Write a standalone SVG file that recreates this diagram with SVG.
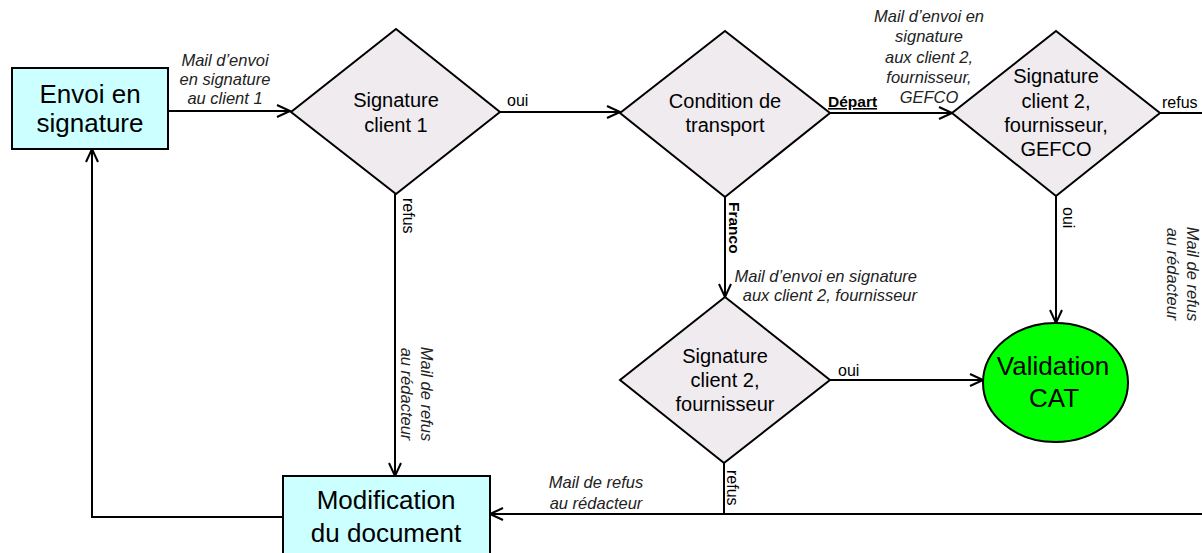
<svg xmlns="http://www.w3.org/2000/svg" width="1202" height="553" viewBox="0 0 1202 553">
<defs>
<style>
.box{fill:#ccffff;stroke:#000;stroke-width:2}
.dia{fill:#efebef;stroke:#000;stroke-width:2}
.ell{fill:#00ff00;stroke:#000;stroke-width:2}
.big{font-family:"Liberation Sans",Arial,sans-serif;font-size:26px;fill:#000;text-anchor:middle}
.mid{font-family:"Liberation Sans",Arial,sans-serif;font-size:20px;fill:#000;text-anchor:middle}
.lab{font-family:"Liberation Sans",Arial,sans-serif;font-size:16px;fill:#000}
.bold{font-family:"Liberation Sans",Arial,sans-serif;font-size:15.5px;font-weight:bold;fill:#000}
.it{font-family:"Liberation Sans",Arial,sans-serif;font-size:16.5px;font-style:italic;fill:#222;text-anchor:middle}
.con{fill:none;stroke:#000;stroke-width:2}
</style>
<marker id="arr" markerUnits="userSpaceOnUse" markerWidth="16" markerHeight="14" refX="14" refY="7" orient="auto">
<path d="M1,1 L14,7 L1,13" fill="none" stroke="#000" stroke-width="2"/>
</marker>
</defs>
<rect width="1202" height="553" fill="#fff"/>

<g id="connectors">
<path class="con" d="M168,111 H290" marker-end="url(#arr)"/>
<path class="con" d="M500,112 H620" marker-end="url(#arr)"/>
<path class="con" d="M830,113 H952" marker-end="url(#arr)"/>
<path class="con" d="M1160,113 H1215 V514 H490" marker-end="url(#arr)"/>
<path class="con" d="M395,194 V476" marker-end="url(#arr)"/>
<path class="con" d="M725,197 V297" stroke-width="2.5" marker-end="url(#arr)"/>
<path class="con" d="M830,380 H983" marker-end="url(#arr)"/>
<path class="con" d="M1056,196 V323" marker-end="url(#arr)"/>
<path class="con" d="M724,463 V514"/>
<path class="con" d="M283,517 H92 V149" marker-end="url(#arr)"/>

<text class="it" x="225" y="66">Mail d’envoi</text>
<text class="it" x="225" y="85">en signature</text>
<text class="it" x="225" y="104">au client 1</text>

<text class="lab" x="507" y="106">oui</text>
<text class="lab" x="1162" y="108">refus</text>
<text class="lab" x="838" y="376">oui</text>
<text class="bold" x="828" y="107" text-decoration="underline">Départ</text>

<text class="it" x="929" y="22">Mail d’envoi en</text>
<text class="it" x="929" y="42.3">signature</text>
<text class="it" x="929" y="62.5">aux client 2,</text>
<text class="it" x="929" y="82.7">fournisseur,</text>
<text class="it" x="929" y="103">GEFCO</text>

<text class="lab" transform="translate(403,198) rotate(90)">refus</text>
<text class="it" transform="translate(421,394) rotate(90)">Mail de refus</text>
<text class="it" transform="translate(401,394) rotate(90)">au rédacteur</text>

<text class="bold" transform="translate(729,202) rotate(90)">Franco</text>
<text class="it" x="917" y="282" style="text-anchor:end">Mail d’envoi en signature</text>
<text class="it" x="917" y="301" style="text-anchor:end">aux client 2, fournisseur</text>

<text class="lab" transform="translate(1063,207) rotate(90)">oui</text>
<text class="it" transform="translate(1187,274) rotate(90)">Mail de refus</text>
<text class="it" transform="translate(1167,274) rotate(90)">au rédacteur</text>

<text class="lab" transform="translate(727,470) rotate(90)">refus</text>
<text class="it" x="596" y="488">Mail de refus</text>
<text class="it" x="596" y="509">au rédacteur</text>
</g>

<g id="envoi">
<rect class="box" x="12" y="68" width="156" height="81"/>
<text class="big" x="90" y="103">Envoi en</text>
<text class="big" x="90" y="132">signature</text>
</g>

<g id="sig1">
<polygon class="dia" points="396,29 500,112 396,194 291,112"/>
<text class="mid" x="396" y="107">Signature</text>
<text class="mid" x="396" y="132">client 1</text>
</g>

<g id="condition">
<polygon class="dia" points="725,31 830,113 725,197 620,113"/>
<text class="mid" x="725" y="108">Condition de</text>
<text class="mid" x="725" y="132">transport</text>
</g>

<g id="sig3">
<polygon class="dia" points="1056,31 1160,113 1056,196 952,113"/>
<text class="mid" x="1056" y="83">Signature</text>
<text class="mid" x="1056" y="108">client 2,</text>
<text class="mid" x="1056" y="132">fournisseur,</text>
<text class="mid" x="1056" y="156">GEFCO</text>
</g>

<g id="sig2">
<polygon class="dia" points="725,297 830,380 724,463 620,380"/>
<text class="mid" x="725" y="363">Signature</text>
<text class="mid" x="725" y="387">client 2,</text>
<text class="mid" x="725" y="411">fournisseur</text>
</g>

<g id="validation">
<ellipse class="ell" cx="1055.5" cy="382.5" rx="72.5" ry="59.5"/>
<text class="big" x="1053" y="375">Validation</text>
<text class="big" x="1054" y="407">CAT</text>
</g>

<g id="modification">
<rect class="box" x="283" y="476" width="207" height="90"/>
<text class="big" x="386" y="509">Modification</text>
<text class="big" x="386" y="542">du document</text>
</g>
</svg>
